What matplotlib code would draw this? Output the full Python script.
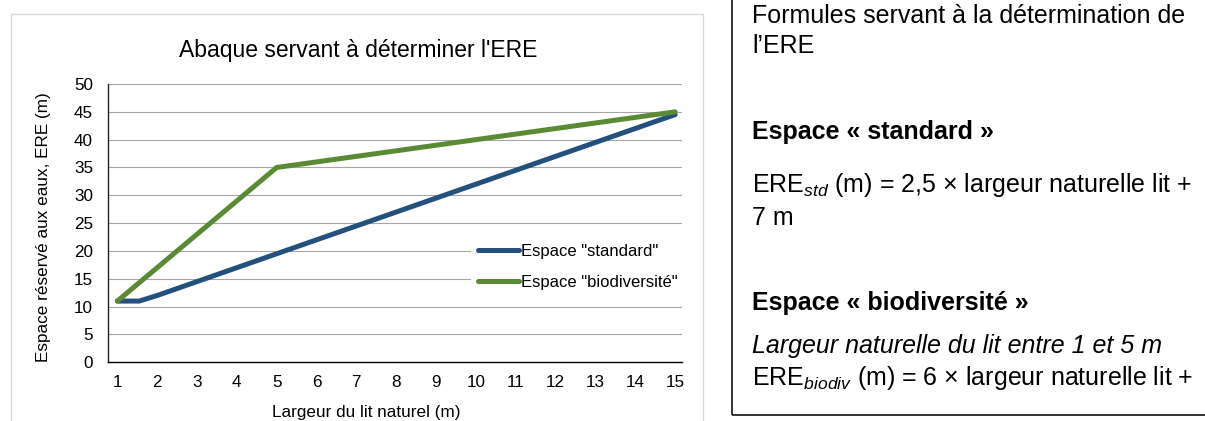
import matplotlib
matplotlib.use("Agg")
import matplotlib.pyplot as plt
from matplotlib.patches import Rectangle

plt.rcParams['font.family'] = ['Liberation Sans', 'DejaVu Sans']
plt.rcParams['mathtext.fontset'] = 'custom'
plt.rcParams['mathtext.rm'] = 'Liberation Sans'
plt.rcParams['mathtext.it'] = 'Liberation Sans:italic'

# data
x_std = [1, 1.55, 2, 3, 4, 5, 6, 7, 8, 9, 10, 11, 12, 13, 14, 15]
y_std = [11, 11, 12, 14.5, 17, 19.5, 22, 24.5, 27, 29.5, 32, 34.5, 37, 39.5, 42, 44.5]
x_bio = [1, 2, 3, 4, 5, 6, 7, 8, 9, 10, 11, 12, 13, 14, 15]
y_bio = [11, 17, 23, 29, 35, 36, 37, 38, 39, 40, 41, 42, 43, 44, 45]
x_ticks = list(range(1, 16))
y_ticks = list(range(0, 51, 5))
labels = ['Espace "standard"', 'Espace "biodiversité"']

W, H = 1205, 421
fig = plt.figure(figsize=(W / 100, H / 100), dpi=100)

def fx(px):
    return px / W

def fy(py):
    return 1 - py / H

# chart area frame
fig.patches.append(Rectangle((fx(10.7), fy(430)), fx(703 - 10.7), (430 - 14.3) / H,
                             transform=fig.transFigure, fill=False,
                             edgecolor='#D9D9D9', lw=1.0))

ax = fig.add_axes([fx(108.3), fy(362.3), fx(682.3 - 108.3), (362.3 - 84) / H])
ax.plot(x_std, y_std, color='#24507E', lw=3.6, solid_joinstyle='round',
        solid_capstyle='round', label=labels[0], zorder=3)
ax.plot(x_bio, y_bio, color='#5A8A34', lw=3.6, solid_joinstyle='round',
        solid_capstyle='round', label=labels[1], zorder=3)

ax.set_xlim(0.774, 15.18)
ax.set_ylim(0, 50)
ax.set_xticks(x_ticks)
ax.set_yticks(y_ticks)
ax.tick_params(length=0, labelsize=12.3)
ax.tick_params(axis='y', pad=11)
ax.tick_params(axis='x', pad=9)
ax.grid(axis='y', color='#A6A6A6', lw=0.8)
ax.set_axisbelow(True)
for s in ['top', 'right']:
    ax.spines[s].set_visible(False)
ax.spines['left'].set_color('#222222')
ax.spines['bottom'].set_color('#000000')
ax.spines['left'].set_linewidth(1.0)
ax.spines['bottom'].set_linewidth(1.0)

leg = ax.legend(loc='center left', bbox_to_anchor=(fx(471), fy(266.7)),
                bbox_transform=fig.transFigure, fontsize=12, handlelength=2.46,
                handletextpad=0.12, labelspacing=0.97, borderpad=0.4,
                borderaxespad=0, fancybox=False, framealpha=1)
leg.get_frame().set_edgecolor('white')
leg.get_frame().set_linewidth(0)

fig.text(fx(358), fy(56.7), "Abaque servant à déterminer l'ERE", fontsize=16.5,
         ha='center', va='baseline')
fig.text(fx(43.5), fy(227), "Espace réservé aux eaux, ERE (m)", fontsize=12.3,
         rotation=90, ha='center', va='center')
fig.text(fx(366), fy(416.5), "Largeur du lit naturel (m)", fontsize=12.3,
         ha='center', va='baseline')

# text box on the right
fig.patches.append(Rectangle((fx(732.5), fy(415)), fx(1215 - 732.5), (415 + 10) / H,
                             transform=fig.transFigure, fill=False,
                             edgecolor='#111111', lw=1.2))

tx = fx(752)
fs = 18
fig.text(tx, fy(23.3), "Formules servant à la détermination de", fontsize=fs, va='baseline')
fig.text(tx, fy(53.3), "l’ERE", fontsize=fs, va='baseline')
fig.text(tx, fy(139.5), "Espace « standard »", fontsize=fs, fontweight='bold', va='baseline')
fig.text(tx, fy(191.5), r"ERE$_{\mathit{std}}$ (m) = 2,5 × largeur naturelle lit +",
         fontsize=fs, va='baseline')
fig.text(tx, fy(225), "7 m", fontsize=fs, va='baseline')
fig.text(tx, fy(310), "Espace « biodiversité »", fontsize=fs, fontweight='bold', va='baseline')
fig.text(tx, fy(353), "Largeur naturelle du lit entre 1 et 5 m", fontsize=fs,
         fontstyle='italic', va='baseline')
fig.text(tx, fy(385), r"ERE$_{\mathit{biodiv}}$ (m) = 6 × largeur naturelle lit +",
         fontsize=fs, va='baseline')

fig.savefig("out.png", dpi=100, facecolor='white')
